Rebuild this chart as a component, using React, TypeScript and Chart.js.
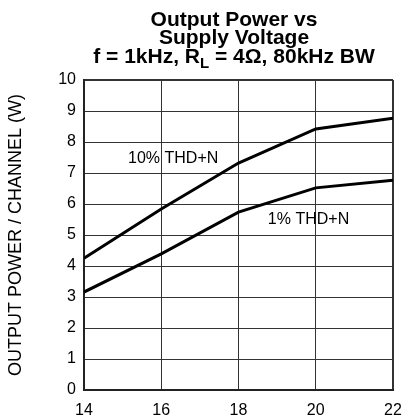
import React, { useEffect, useRef } from "react";
import { Chart, registerables } from "chart.js";

Chart.register(...registerables);

const supplyVoltage = [14, 16, 18, 20, 22];
const thd10 = [4.25, 5.84, 7.32, 8.42, 8.77];
const thd1 = [3.16, 4.39, 5.74, 6.52, 6.77];
const xTicks = [14, 16, 18, 20, 22];
const yTicks = [0, 1, 2, 3, 4, 5, 6, 7, 8, 9, 10];
const curveLabels = [
  { text: "10% THD+N", x: 15.14, y: 7.45 },
  { text: "1% THD+N", x: 18.76, y: 5.5 },
];
const titleLine1 = "Output Power vs";
const titleLine2 = "Supply Voltage";
const titleLine3 = [
  { t: "f = 1kHz, R", sub: false },
  { t: "L", sub: true },
  { t: " = 4Ω, 80kHz BW", sub: false },
];
const yAxisTitle = "OUTPUT POWER / CHANNEL (W)";

const FONT = "'Liberation Sans', Arial, sans-serif";

const overlayPlugin = {
  id: "overlay",
  afterDraw(chart: any) {
    const { ctx, scales } = chart;
    ctx.save();
    ctx.fillStyle = "#000";
    ctx.textBaseline = "alphabetic";
    const cx = 234;
    ctx.textAlign = "center";
    ctx.font = `bold 21px ${FONT}`;
    ctx.fillText(titleLine1, cx, 26);
    ctx.fillText(titleLine2, cx, 44);
    const widths = titleLine3.map((p) => {
      ctx.font = `bold ${p.sub ? 15 : 21}px ${FONT}`;
      return ctx.measureText(p.t).width;
    });
    const total = widths.reduce((a, b) => a + b, 0);
    let x = cx - total / 2;
    ctx.textAlign = "left";
    titleLine3.forEach((p, i) => {
      ctx.font = `bold ${p.sub ? 15 : 21}px ${FONT}`;
      ctx.fillText(p.t, x, p.sub ? 68 : 63);
      x += widths[i];
    });
    ctx.font = `16px ${FONT}`;
    ctx.textAlign = "left";
    ctx.textBaseline = "middle";
    curveLabels.forEach((l) => {
      ctx.fillText(l.text, scales.x.getPixelForValue(l.x), scales.y.getPixelForValue(l.y));
    });
    ctx.restore();
  },
};

export default function App() {
  const ref = useRef<HTMLCanvasElement>(null);
  useEffect(() => {
    const chart = new Chart(ref.current!, {
      type: "line",
      data: {
        datasets: [
          {
            label: "10% THD+N",
            data: supplyVoltage.map((v, i) => ({ x: v, y: thd10[i] })),
            borderColor: "#000",
            borderWidth: 3,
            pointRadius: 0,
            tension: 0,
          },
          {
            label: "1% THD+N",
            data: supplyVoltage.map((v, i) => ({ x: v, y: thd1[i] })),
            borderColor: "#000",
            borderWidth: 3,
            pointRadius: 0,
            tension: 0,
          },
        ],
      },
      options: {
        responsive: false,
        animation: false,
        devicePixelRatio: 1,
        layout: { padding: { top: 80, right: 10, left: 0, bottom: 0 } },
        plugins: { legend: { display: false }, tooltip: { enabled: false }, title: { display: false } },
        scales: {
          x: {
            type: "linear",
            min: 14,
            max: 22,
            afterBuildTicks: (s: any) => {
              s.ticks = xTicks.map((v) => ({ value: v }));
            },
            afterFit: (s: any) => {
              s.height = 27;
              s.paddingRight = 0;
              s.paddingLeft = 0;
            },
            ticks: { color: "#000", font: { family: FONT, size: 16 }, padding: 11, maxRotation: 0 },
            grid: {
              color: "#333",
              lineWidth: (c: any) => (c.tick && c.tick.value === 22 ? 2 : 1),
              drawTicks: false,
            },
            border: { color: "#222", width: 2 },
          },
          y: {
            type: "linear",
            min: 0,
            max: 10,
            afterBuildTicks: (s: any) => {
              s.ticks = yTicks.map((v) => ({ value: v }));
            },
            afterFit: (s: any) => {
              s.width = 84;
              s.paddingTop = 0;
              s.paddingBottom = 0;
            },
            ticks: { color: "#000", font: { family: FONT, size: 16 }, padding: 8 },
            grid: {
              color: "#333",
              lineWidth: (c: any) => (c.tick && c.tick.value === 10 ? 2 : 1),
              drawTicks: false,
            },
            border: { color: "#222", width: 2 },
            title: {
              display: true,
              text: yAxisTitle,
              color: "#000",
              font: { family: FONT, size: 18 },
              padding: { top: 5, bottom: 0 },
            },
          },
        },
      },
      plugins: [overlayPlugin],
    } as any);
    return () => chart.destroy();
  }, []);
  return (
    <div style={{ position: "fixed", left: 0, top: 0, width: 403, height: 417, background: "#fff" }}>
      <canvas ref={ref} width={403} height={417} style={{ display: "block" }} />
    </div>
  );
}
